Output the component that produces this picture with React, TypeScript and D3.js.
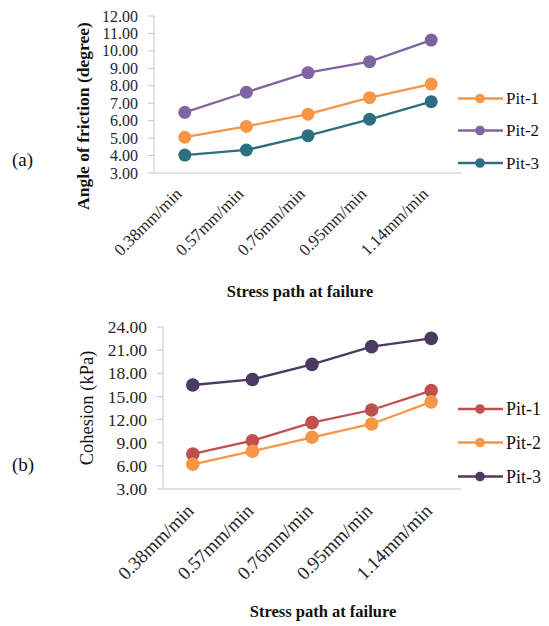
import React from "react";
import * as d3 from "d3";

// Loading-rate categories shared by both panels
const categories = ["0.38mm/min", "0.57mm/min", "0.76mm/min", "0.95mm/min", "1.14mm/min"];
const seriesNames = ["Pit-1", "Pit-2", "Pit-3"];

// (a) angle of friction, degrees
const frictionPit1 = [5.05, 5.67, 6.37, 7.32, 8.1];
const frictionPit2 = [6.48, 7.63, 8.75, 9.38, 10.62];
const frictionPit3 = [4.03, 4.32, 5.14, 6.08, 7.09];
const frictionTicks = [3, 4, 5, 6, 7, 8, 9, 10, 11, 12];

// (b) cohesion, kPa
const cohesionPit1 = [7.54, 9.26, 11.6, 13.24, 15.75];
const cohesionPit2 = [6.2, 7.9, 9.7, 11.43, 14.3];
const cohesionPit3 = [16.48, 17.2, 19.16, 21.45, 22.53];
const cohesionTicks = [3, 6, 9, 12, 15, 18, 21, 24];

const SERIF = "Liberation Serif, Times New Roman, serif";

type Panel = {
  tag: string;
  title: string;
  titleBold: boolean;
  series: number[][];
  colors: string[];
  ticks: number[];
  left: number;
  right: number;
  top: number;
  bottom: number;
  tickFont: number;
  catFont: number;
  catDx: number;
  catDy: number;
  legendFont: number;
  legendY: number[];
  titleX: number;
  titleY: number;
  xTitleX: number;
  xTitleY: number;
  tagY: number;
  r: number;
};

const panels: Panel[] = [
  {
    tag: "(a)",
    title: "Angle of friction  (degree)",
    titleBold: true,
    series: [frictionPit1, frictionPit2, frictionPit3],
    colors: ["#f79646", "#8064a2", "#2b6f80"],
    ticks: frictionTicks,
    left: 154,
    right: 462,
    top: 16,
    bottom: 173,
    tickFont: 16,
    catFont: 17,
    catDx: -2,
    catDy: 22,
    legendFont: 17,
    legendY: [98.5, 130.5, 163],
    titleX: 83,
    titleY: 116,
    xTitleX: 300,
    xTitleY: 297,
    tagY: 166,
    r: 6.5,
  },
  {
    tag: "(b)",
    title: "Cohesion  (kPa)",
    titleBold: false,
    series: [cohesionPit1, cohesionPit2, cohesionPit3],
    colors: ["#c0504d", "#f79646", "#4b3960"],
    ticks: cohesionTicks,
    left: 163,
    right: 461,
    top: 327,
    bottom: 489,
    tickFont: 17.5,
    catFont: 19,
    catDx: 2,
    catDy: 23,
    legendFont: 18,
    legendY: [409, 442.5, 476.5],
    titleX: 87,
    titleY: 408,
    xTitleX: 323,
    xTitleY: 617,
    tagY: 471,
    r: 6.8,
  },
];

function LinePanel({ p }: { p: Panel }) {
  const x = d3.scaleBand<string>().domain(categories).range([p.left, p.right]);
  const y = d3
    .scaleLinear()
    .domain([p.ticks[0], p.ticks[p.ticks.length - 1]])
    .range([p.bottom, p.top]);
  const cx = (c: string) => (x(c) ?? 0) + x.bandwidth() / 2;
  const line = d3
    .line<number>()
    .x((_, i) => cx(categories[i]))
    .y((v) => y(v));
  const axisColor = "#c6c6c6";

  return (
    <g>
      {/* value axis */}
      <line x1={p.left} x2={p.left} y1={p.top} y2={p.bottom} stroke={axisColor} strokeWidth={1} />
      {p.ticks.map((t) => (
        <g key={t}>
          <line x1={p.left - 6} x2={p.left} y1={y(t)} y2={y(t)} stroke={axisColor} strokeWidth={1} />
          <text
            x={p.left - 16}
            y={y(t)}
            dy="0.35em"
            textAnchor="end"
            fontFamily={SERIF}
            fontSize={p.tickFont}
            fill="#262626"
          >
            {t.toFixed(2)}
          </text>
        </g>
      ))}
      {/* category axis */}
      <line x1={p.left} x2={p.right} y1={p.bottom} y2={p.bottom} stroke={axisColor} strokeWidth={1} />
      {categories.map((c) => {
        const ax = cx(c) + p.catDx;
        const ay = p.bottom + p.catDy;
        return (
          <text
            key={c}
            x={ax}
            y={ay}
            transform={`rotate(-45 ${ax} ${ay})`}
            textAnchor="end"
            fontFamily={SERIF}
            fontSize={p.catFont}
            fill="#262626"
          >
            {c}
          </text>
        );
      })}
      {/* series */}
      {p.series.map((s, si) => (
        <g key={si}>
          <path d={line(s) ?? ""} fill="none" stroke={p.colors[si]} strokeWidth={2.3} />
          {s.map((v, i) => (
            <circle key={i} cx={cx(categories[i])} cy={y(v)} r={p.r} fill={p.colors[si]} />
          ))}
        </g>
      ))}
      {/* legend */}
      {seriesNames.map((n, si) => (
        <g key={n}>
          <line x1={458} x2={503} y1={p.legendY[si]} y2={p.legendY[si]} stroke={p.colors[si]} strokeWidth={2.3} />
          <circle cx={480} cy={p.legendY[si]} r={4.8} fill={p.colors[si]} />
          <text
            x={506}
            y={p.legendY[si]}
            dy="0.35em"
            fontFamily={SERIF}
            fontSize={p.legendFont}
            fill="#111"
          >
            {n}
          </text>
        </g>
      ))}
      {/* titles */}
      <text
        x={p.titleX}
        y={p.titleY}
        transform={`rotate(-90 ${p.titleX} ${p.titleY})`}
        textAnchor="middle"
        dy="0.35em"
        fontFamily={SERIF}
        fontWeight={p.titleBold ? "bold" : "normal"}
        fontSize={p.titleBold ? 17.5 : 18.5}
        fill="#111"
      >
        {p.title}
      </text>
      <text
        x={p.xTitleX}
        y={p.xTitleY}
        textAnchor="middle"
        fontFamily={SERIF}
        fontWeight="bold"
        fontSize={16.5}
        fill="#111"
      >
        Stress path at failure
      </text>
      <text x={12} y={p.tagY} fontFamily={SERIF} fontSize={19} fill="#111">
        {p.tag}
      </text>
    </g>
  );
}

export default function App() {
  return (
    <svg
      width={549}
      height={626}
      viewBox="0 0 549 626"
      style={{ position: "absolute", left: 0, top: 0, background: "#fff" }}
    >
      <rect width={549} height={626} fill="#fff" />
      {panels.map((p) => (
        <LinePanel key={p.tag} p={p} />
      ))}
    </svg>
  );
}
